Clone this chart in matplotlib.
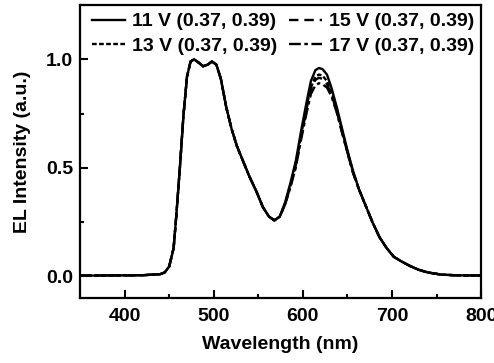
import matplotlib
matplotlib.use("Agg")
import matplotlib.pyplot as plt
from matplotlib.ticker import MultipleLocator

plt.rcParams['font.family'] = ['Liberation Sans', 'DejaVu Sans']

wavelength_blue = [350, 380, 420, 440, 445, 450, 455, 458, 462, 466, 470, 474, 478, 483,
                   488, 493, 498, 503, 508, 514, 520, 526, 533, 540, 548, 555, 562, 568, 574]
intensity_blue = [0.003, 0.004, 0.005, 0.010, 0.018, 0.045, 0.13, 0.28, 0.50, 0.74, 0.92, 0.99,
                  1.00, 0.985, 0.968, 0.975, 0.99, 0.975, 0.91, 0.78, 0.68, 0.60, 0.53, 0.46,
                  0.39, 0.32, 0.275, 0.258, 0.275]

wavelength_red = [580, 586, 592, 598, 604, 609, 614, 618, 622, 627, 632, 638, 644, 650, 656,
                  663, 670, 678, 686, 694, 702, 710, 720, 730, 740, 755, 770, 785, 800]
tail = [0.40, 0.33, 0.25, 0.18, 0.13, 0.09, 0.07, 0.048, 0.03, 0.018, 0.008, 0.005, 0.004, 0.004]
red_11V = [0.34, 0.43, 0.53, 0.67, 0.80, 0.90, 0.95, 0.96, 0.955, 0.93, 0.87, 0.78, 0.68, 0.58, 0.49]
red_13V = [0.335, 0.42, 0.52, 0.65, 0.78, 0.87, 0.92, 0.93, 0.925, 0.90, 0.85, 0.77, 0.67, 0.575, 0.485]
red_15V = [0.33, 0.415, 0.51, 0.64, 0.77, 0.86, 0.905, 0.915, 0.91, 0.885, 0.84, 0.76, 0.665, 0.57, 0.48]
red_17V = [0.33, 0.41, 0.50, 0.63, 0.75, 0.84, 0.88, 0.89, 0.885, 0.87, 0.83, 0.755, 0.66, 0.57, 0.48]

labels = ['11 V (0.37, 0.39)', '13 V (0.37, 0.39)', '15 V (0.37, 0.39)', '17 V (0.37, 0.39)']
reds = [red_11V, red_13V, red_15V, red_17V]
styles = ['-', (0, (2.0, 1.0)), (0, (4, 2.5)), (0, (5, 1.5, 1.5, 1.5))]

fig = plt.figure(figsize=(4.94, 3.63), dpi=100)
ax = fig.add_axes([0.162, 0.179, 0.812, 0.807])

x = wavelength_blue + wavelength_red
for lab, red, ls in zip(labels, reds, styles):
    y = intensity_blue + red + tail
    ax.plot(x, y, color='black', lw=1.7, linestyle=ls, label=lab)

ax.set_xlim(350, 800)
ax.set_ylim(-0.1, 1.25)
ax.xaxis.set_major_locator(MultipleLocator(100))
ax.xaxis.set_minor_locator(MultipleLocator(50))
ax.yaxis.set_major_locator(MultipleLocator(0.5))
ax.yaxis.set_minor_locator(MultipleLocator(0.25))
ax.tick_params(which='both', direction='in', top=False, right=False, width=1.5)
ax.tick_params(which='major', length=6, labelsize=14)
ax.tick_params(axis='x', which='major', pad=7)
ax.tick_params(axis='y', which='major', pad=5)
ax.tick_params(which='minor', length=3)
for lab in ax.get_xticklabels() + ax.get_yticklabels():
    lab.set_fontweight('bold')
for s in ax.spines.values():
    s.set_linewidth(1.6)

ax.set_xlabel('Wavelength (nm)', fontsize=14, fontweight='bold', labelpad=8)
ax.set_ylabel('EL Intensity (a.u.)', fontsize=14, fontweight='bold', labelpad=11)

handles, labs = ax.get_legend_handles_labels()
leg = ax.legend(handles, labs, ncol=2,
                loc='upper left', bbox_to_anchor=(0.01, 1.0), frameon=False,
                prop={'size': 14, 'weight': 'bold'}, handlelength=1.7, handletextpad=0.36,
                columnspacing=0.6, labelspacing=0.35, borderaxespad=0.3, borderpad=0.1)

fig.savefig('out.png', dpi=100)
